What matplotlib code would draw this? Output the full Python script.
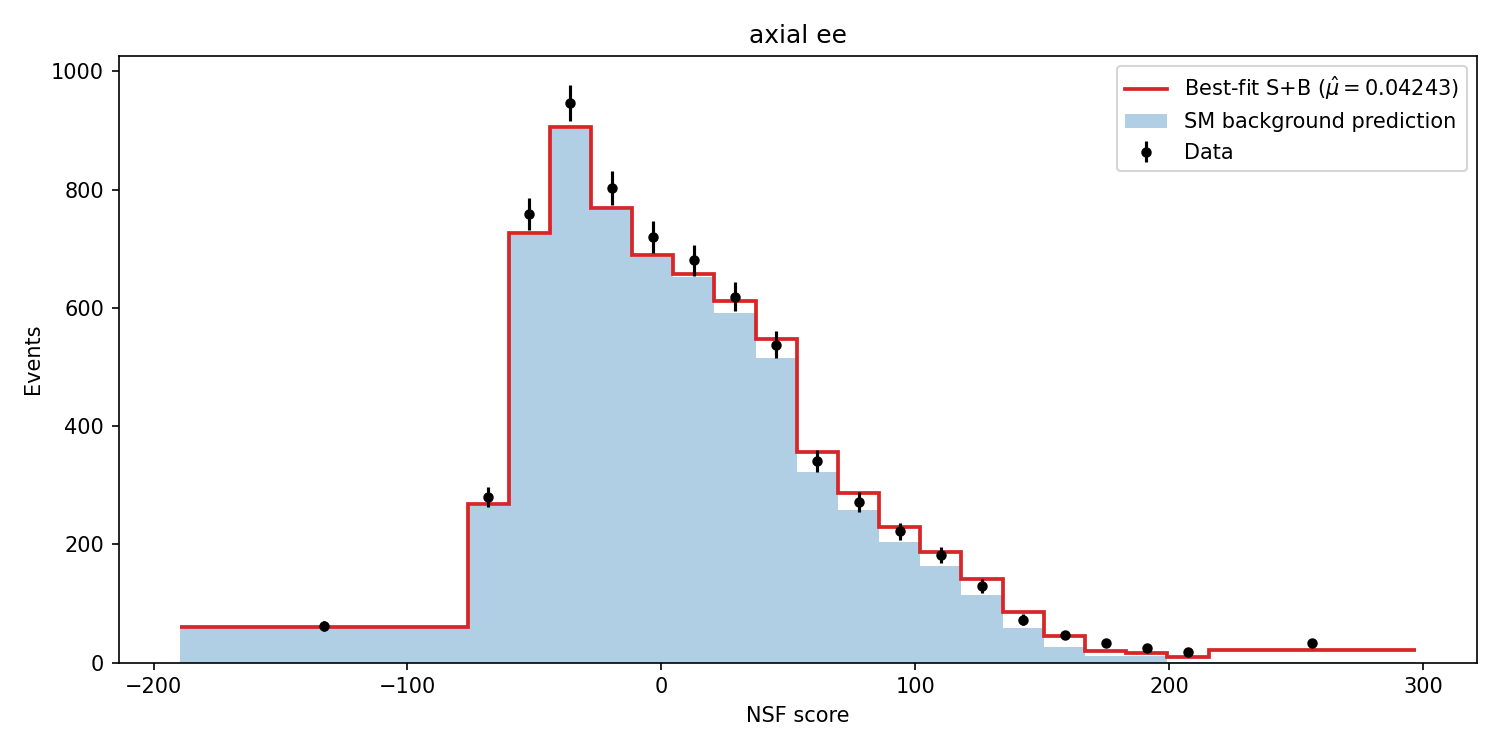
import numpy as np
import matplotlib
matplotlib.use("Agg")
import matplotlib.pyplot as plt

# bin edges of the NSF score histogram
edges = [-189.4, -76.3, -60.1, -43.9, -27.7, -11.5, 4.7, 20.9, 37.2, 53.4, 69.6,
         85.8, 102.0, 118.2, 134.4, 150.7, 166.9, 183.1, 199.3, 215.5, 297.1]

# SM background prediction per bin
bkg = [58, 265, 724, 903, 766, 687, 652, 592, 516, 322, 258, 204, 163, 114,
       58, 26, 12, 11, 1, 1.5]

# best-fit signal + background per bin
sb = [60, 268, 727, 906, 769, 690, 657, 612, 548, 357, 287, 229, 188, 141,
      86, 46, 19, 16, 10, 21]

# observed events per bin
data = [62, 280, 759, 947, 803, 720, 681, 619, 538, 341, 272, 222, 182, 130,
        73, 47, 33, 25, 18, 33]

mu_hat = 0.04243

edges_arr = np.array(edges)
centers = 0.5 * (edges_arr[1:] + edges_arr[:-1])
data_arr = np.array(data, dtype=float)

fig, ax = plt.subplots(figsize=(10, 5), dpi=150)

h_bkg = ax.stairs(bkg, edges, fill=True, color="tab:blue", alpha=0.35,
                  linewidth=0, label="SM background prediction")
h_sb = ax.stairs(sb, edges, baseline=None, color="tab:red", linewidth=1.8,
                 label=rf"Best-fit S+B ($\hat{{\mu}} = {mu_hat}$)")
h_data = ax.errorbar(centers, data_arr, yerr=np.sqrt(data_arr), fmt="o",
                     color="black", markersize=4, elinewidth=1.5, label="Data")

ax.set_ylim(bottom=0)
ax.set_xlabel("NSF score")
ax.set_ylabel("Events")
ax.set_title("axial ee")
ax.legend(handles=[h_sb, h_bkg, h_data], loc="upper right")

fig.subplots_adjust(left=0.0791, right=0.985, top=0.9257, bottom=0.1164)
fig.savefig("out.png")
